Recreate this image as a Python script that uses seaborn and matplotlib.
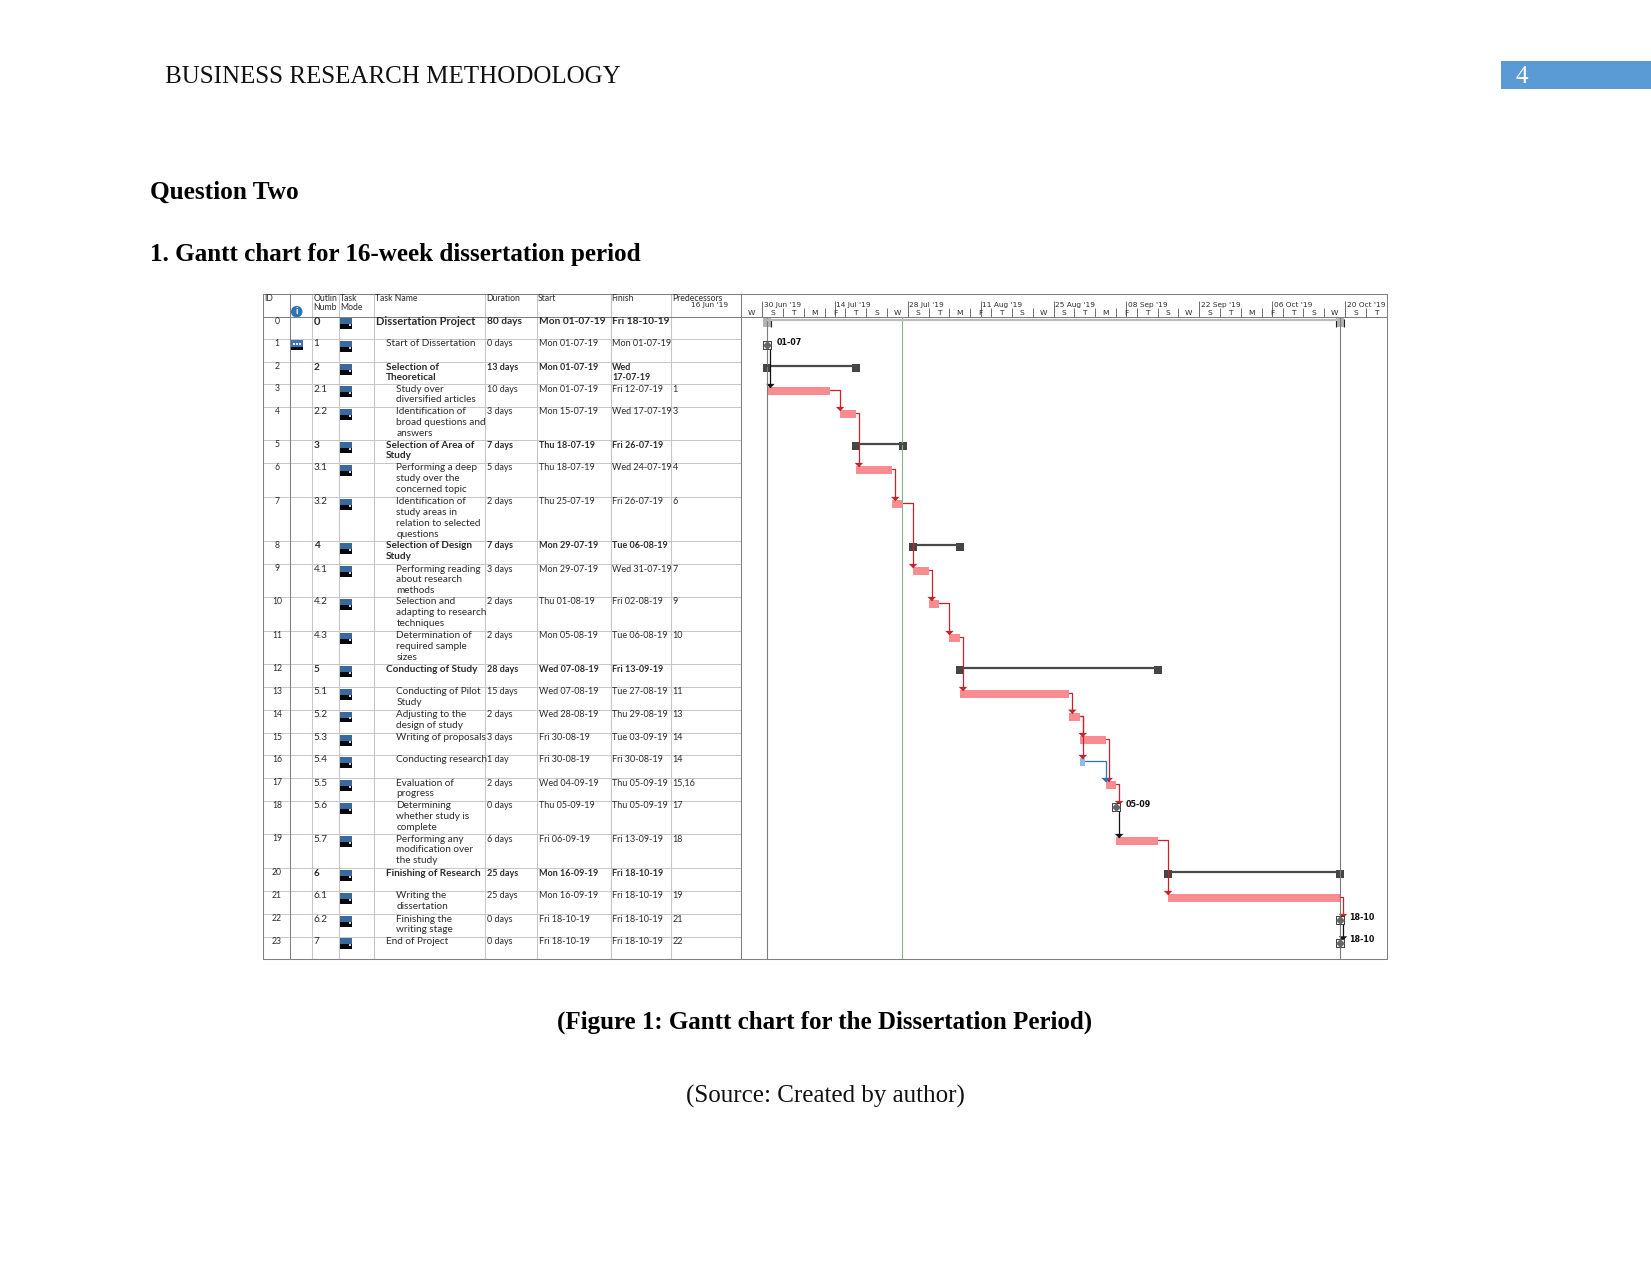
import numpy as np
import pandas as pd
import matplotlib.pyplot as plt
import matplotlib.dates as mdates
from matplotlib.patches import Rectangle, Circle
import seaborn as sns

# Table columns
outline = ["0", "1", "2", "2.1", "2.2", "3", "3.1", "3.2", "4", "4.1", "4.2", "4.3",
           "5", "5.1", "5.2", "5.3", "5.4", "5.5", "5.6", "5.7", "6", "6.1", "6.2", "7"]
task_names = ["Dissertation Project", "Start of Dissertation", "Selection of\nTheoretical",
              "Study over\ndiversified articles", "Identification of\nbroad questions and\nanswers",
              "Selection of Area of\nStudy", "Performing a deep\nstudy over the\nconcerned topic",
              "Identification of\nstudy areas in\nrelation to selected\nquestions",
              "Selection of Design\nStudy", "Performing reading\nabout research\nmethods",
              "Selection and\nadapting to research\ntechniques",
              "Determination of\nrequired sample\nsizes", "Conducting of Study",
              "Conducting of Pilot\nStudy", "Adjusting to the\ndesign of study",
              "Writing of proposals", "Conducting research", "Evaluation of\nprogress",
              "Determining\nwhether study is\ncomplete",
              "Performing any\nmodification over\nthe study", "Finishing of Research",
              "Writing the\ndissertation", "Finishing the\nwriting stage", "End of Project"]
durations = ["80 days", "0 days", "13 days", "10 days", "3 days", "7 days", "5 days", "2 days",
             "7 days", "3 days", "2 days", "2 days", "28 days", "15 days", "2 days", "3 days",
             "1 day", "2 days", "0 days", "6 days", "25 days", "25 days", "0 days", "0 days"]
starts = ["Mon 01-07-19", "Mon 01-07-19", "Mon 01-07-19", "Mon 01-07-19", "Mon 15-07-19",
          "Thu 18-07-19", "Thu 18-07-19", "Thu 25-07-19", "Mon 29-07-19", "Mon 29-07-19",
          "Thu 01-08-19", "Mon 05-08-19", "Wed 07-08-19", "Wed 07-08-19", "Wed 28-08-19",
          "Fri 30-08-19", "Fri 30-08-19", "Wed 04-09-19", "Thu 05-09-19", "Fri 06-09-19",
          "Mon 16-09-19", "Mon 16-09-19", "Fri 18-10-19", "Fri 18-10-19"]
finishes = ["Fri 18-10-19", "Mon 01-07-19", "Wed\n17-07-19", "Fri 12-07-19", "Wed 17-07-19",
            "Fri 26-07-19", "Wed 24-07-19", "Fri 26-07-19", "Tue 06-08-19", "Wed 31-07-19",
            "Fri 02-08-19", "Tue 06-08-19", "Fri 13-09-19", "Tue 27-08-19", "Thu 29-08-19",
            "Tue 03-09-19", "Fri 30-08-19", "Thu 05-09-19", "Thu 05-09-19", "Fri 13-09-19",
            "Fri 18-10-19", "Fri 18-10-19", "Fri 18-10-19", "Fri 18-10-19"]
predecessors = ["", "", "", "1", "3", "", "4", "6", "", "7", "9", "10", "", "11", "13", "14",
                "14", "15,16", "17", "18", "", "19", "21", "22"]
summary_rows = [0, 2, 5, 8, 12, 20]
milestone_rows = [1, 18, 22, 23]
milestone_labels = ["01-07", "05-09", "18-10", "18-10"]
noncritical_rows = [16]

week_labels = ["16 Jun '19", "30 Jun '19", "14 Jul '19", "28 Jul '19", "11 Aug '19", "25 Aug '19",
               "08 Sep '19", "22 Sep '19", "06 Oct '19", "20 Oct '19"]
week_dates = ["2019-06-16", "2019-06-30", "2019-07-14", "2019-07-28", "2019-08-11", "2019-08-25",
              "2019-09-08", "2019-09-22", "2019-10-06", "2019-10-20"]
status_date = "2019-07-26 22:00"

# Layout in pixels
W, H = 1651, 1275
table_top, head_bottom = 294.3, 316.7
col_lines = [263.3, 290.3, 312.3, 339.3, 374.3, 485.3, 537.3, 611.3, 671.3, 740.7]
chart_right = 1386.7
heights = np.array([22.6, 23, 22, 23, 33, 23, 34, 44, 23, 33, 34, 33,
                    23, 22.7, 23.3, 22, 23, 23, 33, 34, 23, 23, 22.4, 22.6])

DARK = "#808080"
LIGHT = "#c6c6c6"
TXT = "#2b2b2b"
RED = "#c8232b"

sns.set_theme(style="white")
plt.rcParams["font.family"] = ["Lato", "DejaVu Sans"]

# Row geometry and dates
n_rows = len(outline)
row_top = np.concatenate([[0], np.cumsum(heights)])
table_bottom = head_bottom + row_top[-1]


def to_num(values):
    parsed = pd.to_datetime([v.split()[-1] for v in values], format="%d-%m-%y")
    return mdates.date2num(parsed)


start_num = to_num(starts)
end_num = to_num(finishes) + 1
marker_num = end_num.copy()
marker_num[1] = start_num[1]  # first milestone sits on the project start

fig = plt.figure(figsize=(W / 100, H / 100), dpi=100)
page = fig.add_axes([0, 0, 1, 1])
page.set_xlim(0, W)
page.set_ylim(H, 0)
page.axis("off")

# Page text
serif = ["Liberation Serif", "DejaVu Serif"]
page.add_patch(Rectangle((1500.5, 61), 150.5, 28, color="#5b9bd5", lw=0))
page.text(1516, 77, "4", color="white", family=serif, fontsize=18, va="center")
page.text(165.3, 77, "BUSINESS RESEARCH METHODOLOGY", color="#111111", family=serif, fontsize=18, va="center")
page.text(149.5, 192.5, "Question Two", color="black", family=serif, fontsize=18.2, fontweight="bold", va="center")
page.text(149.5, 254.5, "1. Gantt chart for 16-week dissertation period", color="black", family=serif,
          fontsize=18.05, fontweight="bold", va="center")
page.text(825, 1022, "(Figure 1: Gantt chart for the Dissertation Period)", color="black", family=serif,
          fontsize=18, fontweight="bold", ha="center", va="center")
page.text(825, 1096, "(Source: Created by author)", color="#111111", family=serif, fontsize=18,
          ha="center", va="center")

# Table grid
for t in row_top:
    page.plot([col_lines[0], col_lines[-1]], [head_bottom + t] * 2, color=LIGHT, lw=0.7)
for i, x in enumerate(col_lines):
    c = DARK if i in (0, 1, 9) else LIGHT
    page.plot([x, x], [table_top, table_bottom], color=c, lw=0.75)
for y in (table_top, head_bottom, table_bottom):
    page.plot([col_lines[0], chart_right], [y, y], color=DARK, lw=0.75)
page.plot([chart_right, chart_right], [table_top, table_bottom], color=DARK, lw=0.75)

# Table header
head_kw = dict(color=TXT, fontsize=6.2, va="center")
page.text(263.8, 298.3, "ID", **head_kw)
page.text(313.2, 298.3, "Outlin", **head_kw)
page.text(313.2, 307.3, "Numb", **head_kw)
page.text(340, 298.3, "Task", **head_kw)
page.text(340, 307.3, "Mode", **head_kw)
page.text(375, 298.3, "Task Name", **head_kw)
page.text(486.2, 298.3, "Duration", **head_kw)
page.text(538.2, 298.3, "Start", **head_kw)
page.text(611.5, 298.3, "Finish", **head_kw)
page.text(672.2, 298.3, "Predecessors", **head_kw)
page.add_patch(Circle((296.7, 311.7), 5.8, color="#2e75b6", lw=0))
page.text(296.7, 311.7, "i", color="white", fontsize=7, fontweight="bold", ha="center", va="center")

# Table rows
for i in range(n_rows):
    y = head_bottom + row_top[i] + 1
    weight = "bold" if i in summary_rows else "normal"
    size = 8.0 if i == 0 else 7.2
    date_size = 7.3 if i == 0 else 6.45
    kw = dict(color=TXT, fontsize=size, fontweight=weight, va="center", linespacing=1.0)
    date_kw = dict(kw, fontsize=date_size)
    page.text(277, y + 3.5, str(i), color=TXT, fontsize=6.2, ha="center", va="center")
    page.text(313.7, y + 3.7, outline[i], **kw)
    indent = 375.5 if i == 0 else (396.3 if "." in outline[i] else 385.7)
    for j, line in enumerate(task_names[i].split("\n")):
        page.text(indent, y + 3.7 + 10.7 * j, line, **kw)
    page.text(486.7, y + 3.7, durations[i], **date_kw)
    page.text(538.7, y + 3.7, starts[i], **date_kw)
    for j, line in enumerate(finishes[i].split("\n")):
        page.text(612, y + 3.7 + 10.7 * j, line, **date_kw)
    page.text(672.7, y + 3.7, predecessors[i], **date_kw)
    # task mode icon
    y = y - 1
    page.add_patch(Rectangle((340, y + 1.7), 12, 6, color="#3a6a9c", lw=0))
    page.add_patch(Rectangle((340, y + 7.7), 12, 4.6, color="#05070c", lw=0))
    page.add_patch(Rectangle((348.5, y + 7.2), 2.5, 2.2, color="#c9d4de", lw=0))

# Calendar indicator on row 1
y = head_bottom + row_top[1]
page.add_patch(Rectangle((290.9, y + 1), 12, 9.3, color="#05070c", lw=0))
page.add_patch(Rectangle((290.9, y + 1), 12, 6.5, color="#3e74b5", lw=0))
for dx in (292.5, 295.7, 298.9):
    page.add_patch(Rectangle((dx, y + 3.5), 2.3, 2.3, color="#e8eef5", lw=0))

# Gantt area and its header share one date scale
xlim = mdates.date2num(pd.to_datetime(["2019-06-25 21:30", "2019-10-28 00:00"]))
left = col_lines[-1] / W
width = (chart_right - col_lines[-1]) / W
ax = fig.add_axes([left, 1 - table_bottom / H, width, (table_bottom - head_bottom) / H])
head = fig.add_axes([left, 1 - head_bottom / H, width, (head_bottom - table_top) / H])
for a in (ax, head):
    a.patch.set_alpha(0)

# Header ticks every four days, with the weekday letter in each cell
day_edges = pd.date_range("2019-06-26", "2019-10-24", freq="4D")
head.vlines(mdates.date2num(day_edges[1:]), 0, 0.37, color="#6e6e6e", lw=0.7)
for d in day_edges:
    mid = mdates.date2num(d) + 2
    head.text(mid, 0.16, d.strftime("%A")[0], family="DejaVu Sans", fontsize=5.4, color=TXT,
              ha="center", va="center")
week_num = mdates.date2num(pd.to_datetime(week_dates))
head.vlines(week_num[1:], 0, 0.72, color="#6e6e6e", lw=0.7)
for x, lab in zip(week_num, week_labels):
    head.text(x + 0.3, 0.53, lab, family="DejaVu Sans", fontsize=5.3, color=TXT, va="center")
head.set_xlim(xlim)
head.set_ylim(0, 1)
head.axis("off")

# Reference lines
ax.axvline(start_num[0], color="#7d7d7d", lw=0.8)
ax.axvline(end_num[0], color="#7d7d7d", lw=0.8)
ax.axvline(mdates.date2num(pd.Timestamp(status_date)), color="#8db08d", lw=0.8)

# Task bars
bar_rows = [i for i in range(n_rows) if i not in summary_rows and i not in milestone_rows]
bar_y = row_top[bar_rows] + 6.7
bars = pd.DataFrame({
    "row": bar_y,
    "days": end_num[bar_rows] - start_num[bar_rows],
    "kind": ["free" if i in noncritical_rows else "critical" for i in bar_rows],
})
bar_left = start_num[bar_rows]
for kind, color in [("critical", "#f88c90"), ("free", "#8dbde8")]:
    mask = bars["kind"] == kind
    sns.barplot(data=bars[mask], x="days", y="row", left=bar_left[mask.values], orient="y", native_scale=True,
                width=7.8 / np.diff(np.sort(bar_y[mask.values])).min() if mask.sum() > 1 else 7.8,
                color=color, saturation=1, linewidth=0, legend=False, ax=ax)

# Summary bars
sum_rows = np.array(summary_rows)
sum_colors = ["#bcbcbc" if i == 0 else "#4a4a4a" for i in summary_rows]
ax.hlines(row_top[sum_rows] + 3.4, start_num[sum_rows], end_num[sum_rows], colors=sum_colors, lw=1.6)
caps = pd.DataFrame({
    "x": np.concatenate([start_num[sum_rows], end_num[sum_rows]]),
    "y": np.tile(row_top[sum_rows] + 5.8, 2),
    "tone": np.tile(["light" if i == 0 else "dark" for i in summary_rows], 2),
})
sns.scatterplot(data=caps, x="x", y="y", hue="tone", palette={"light": "#b4b4b4", "dark": "#454545"},
                marker="s", s=34, linewidth=0, legend=False, ax=ax)
# thin dark edges on the project summary caps
edge_x = [start_num[0] + 0.75, end_num[0] - 0.75, end_num[0] + 0.75]
sns.scatterplot(x=edge_x, y=[row_top[0] + 5.8] * 3, color="#222222", marker="|", s=30, linewidth=0.8,
                legend=False, ax=ax)

# Dependency links
links = []
heads = []
for i, preds in enumerate(predecessors):
    if not preds:
        continue
    for p in preds.split(","):
        p = int(p)
        pred_end = marker_num[p] if p in milestone_rows else end_num[p]
        x = max(start_num[i], pred_end + 0.6)
        kind = "free" if p in noncritical_rows else ("link" if p in milestone_rows else "critical")
        y0 = row_top[p] + 5.5
        tip = row_top[i] + 3
        link_id = f"{p}-{i}"
        links += [(link_id, kind, pred_end, y0), (link_id, kind, x, y0), (link_id, kind, x, tip)]
        heads.append((kind, x, tip - 1.5))
links = pd.DataFrame(links, columns=["link", "kind", "x", "y"])
heads = pd.DataFrame(heads, columns=["kind", "x", "y"])
link_colors = {"critical": RED, "free": "#2e75b6", "link": "#111111"}
sns.lineplot(data=links, x="x", y="y", units="link", hue="kind", palette=link_colors, estimator=None,
             sort=False, lw=0.9, legend=False, ax=ax)
sns.scatterplot(data=heads, x="x", y="y", hue="kind", palette=link_colors, s=38,
                marker=[(-1, 0.45), (1, 0.45), (0, -0.55)], linewidth=0, legend=False, ax=ax)

# Milestones
ms_rows = np.array(milestone_rows)
ms = pd.DataFrame({"x": marker_num[ms_rows], "y": row_top[ms_rows] + 6})
sns.scatterplot(data=ms, x="x", y="y", color="#eeeeee", marker="s", s=28, edgecolor="#222222", linewidth=0.6,
                legend=False, ax=ax, zorder=4)
sns.scatterplot(data=ms, x="x", y="y", color="#666666", marker="D", s=20, linewidth=0, legend=False, ax=ax, zorder=5)
for x, r, lab in zip(marker_num[ms_rows], ms_rows, milestone_labels):
    ax.text(x + 1.8, row_top[r] + 3, lab, family="DejaVu Sans", fontsize=5.8, fontweight="bold",
            color="#111111", va="center")

ax.set_xlim(xlim)
ax.set_ylim(table_bottom - head_bottom, 0)
ax.axis("off")

fig.savefig("out.png", dpi=100)
